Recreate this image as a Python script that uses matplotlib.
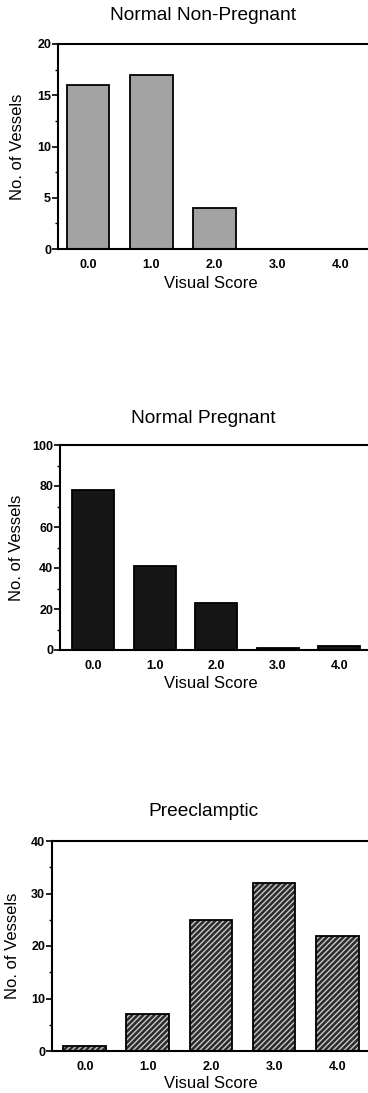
import matplotlib
matplotlib.use("Agg")
import matplotlib.pyplot as plt
from matplotlib.ticker import MultipleLocator

# vessel counts per visual score, one group per panel
scores = [0, 1, 2, 3, 4]
score_labels = ["0.0", "1.0", "2.0", "3.0", "4.0"]
non_pregnant = [16, 17, 4, 0, 0]
pregnant = [78, 41, 23, 1, 2]
preeclamptic = [1, 7, 25, 32, 22]

plt.rcParams['font.family'] = ['Liberation Sans', 'DejaVu Sans']

fig = plt.figure(figsize=(3.68, 10.93), dpi=100)
W, H = 368.0, 1093.0


def panel(left, top, bottom, xlim, values, ymax, major, minor, style,
          title, title_y, xlabel_y, ylabel_x):
    ax = fig.add_axes([left / W, 1 - bottom / H, 1.0 - left / W, (bottom - top) / H])
    if style == "hatch":
        ax.bar(scores, values, width=0.68, color="#2b2b2b", edgecolor="#c8c8c8",
               hatch="//////", linewidth=0, zorder=2)
        ax.bar(scores, values, width=0.68, fill=False, edgecolor="black",
               linewidth=1.3, zorder=3)
    else:
        ax.bar(scores, values, width=0.68, color=style, edgecolor="black",
               linewidth=1.3, zorder=2)
    ax.set_xlim(*xlim)
    ax.set_ylim(0, ymax)
    ax.set_xticks(scores)
    ax.set_xticklabels(score_labels)
    ax.yaxis.set_major_locator(MultipleLocator(major))
    ax.yaxis.set_minor_locator(MultipleLocator(minor))
    ax.tick_params(axis="x", length=0, pad=7, labelsize=9)
    ax.tick_params(axis="y", which="major", length=4, width=1.2, pad=1, labelsize=9)
    ax.tick_params(axis="y", which="minor", length=2.5, width=1)
    for lab in ax.get_xticklabels() + ax.get_yticklabels():
        lab.set_fontweight("bold")
    ax.spines["right"].set_visible(False)
    for s in ("left", "top", "bottom"):
        ax.spines[s].set_linewidth(1.5)
    fig.text(203 / W, 1 - title_y / H, title, ha="center", va="center", fontsize=13.8)
    fig.text(211 / W, 1 - xlabel_y / H, "Visual Score", ha="center", va="center",
             fontsize=12)
    fig.text(ylabel_x / W, 1 - (top + bottom) / 2 / H, "No. of Vessels", ha="center",
             va="center", rotation=90, fontsize=12)
    return ax


panel(58, 44, 249, (-0.476, 4.44), non_pregnant, 20, 5, 2.5, "#a3a3a3",
      "Normal Non-Pregnant", 15, 284, 18)
panel(60, 445, 650, (-0.54, 4.47), pregnant, 100, 20, 10, "#161616",
      "Normal Pregnant", 419, 684, 17)
panel(52, 841, 1051, (-0.52, 4.49), preeclamptic, 40, 10, 5, "hatch",
      "Preeclamptic", 811, 1083, 13)

fig.savefig("out.png", dpi=100)
